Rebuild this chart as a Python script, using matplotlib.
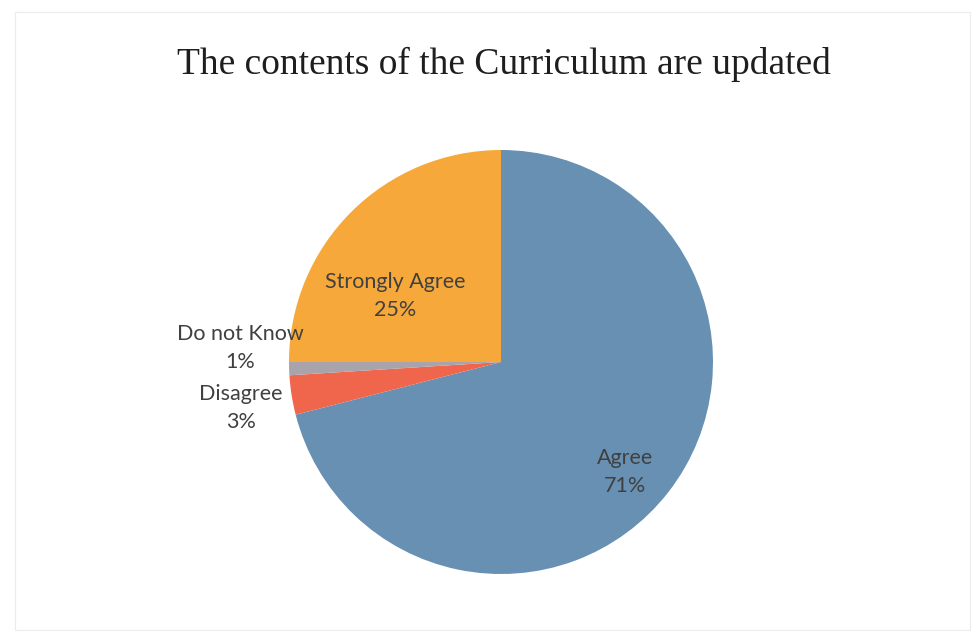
import matplotlib
matplotlib.use("Agg")
import matplotlib.pyplot as plt
import numpy as np
from matplotlib.patches import Rectangle

categories = ["Agree", "Disagree", "Do not Know", "Strongly Agree"]
values = [71, 3, 1, 25]
colors = ["#6890b3", "#f0664c", "#a9a3ab", "#f6a93a"]
title = "The contents of the Curriculum are updated"

W, H = 973, 632
fig = plt.figure(figsize=(W / 100, H / 100), dpi=100)
fig.patch.set_facecolor("white")

# faint chart border
fig.add_artist(Rectangle((15 / W, 2 / H), (W - 18) / W, (H - 14) / H,
                         transform=fig.transFigure, fill=False,
                         edgecolor="#ececf0", linewidth=0.8))

cx, cy, r = 501, 362, 212
ax = fig.add_axes([(cx - r) / W, (H - cy - r) / H, 2 * r / W, 2 * r / H])
wedges, _ = ax.pie(values, colors=colors, startangle=90, counterclock=False,
                   radius=1.0, wedgeprops=dict(linewidth=0))
ax.set_xlim(-1, 1)
ax.set_ylim(-1, 1)
ax.set_aspect("equal")
ax.axis("off")

# label positions (data units of pie axes)
label_pos = {
    "Agree": (0.585, -0.52),
    "Disagree": (-1.228, -0.215),
    "Do not Know": (-1.228, 0.065),
    "Strongly Agree": (-0.50, 0.31),
}
for cat, v in zip(categories, values):
    x, y = label_pos[cat]
    ax.text(x, y, f"{cat}\n{v}%", ha="center", va="center", fontsize=15.5,
            family="Lato", color="#404040", linespacing=1.5, clip_on=False)

fig.text(504 / W, 1 - 64 / H, title, ha="center", va="center",
         family="Liberation Serif", fontsize=27, color="#1e1e1e")

fig.savefig("out.png", dpi=100, facecolor="white")
